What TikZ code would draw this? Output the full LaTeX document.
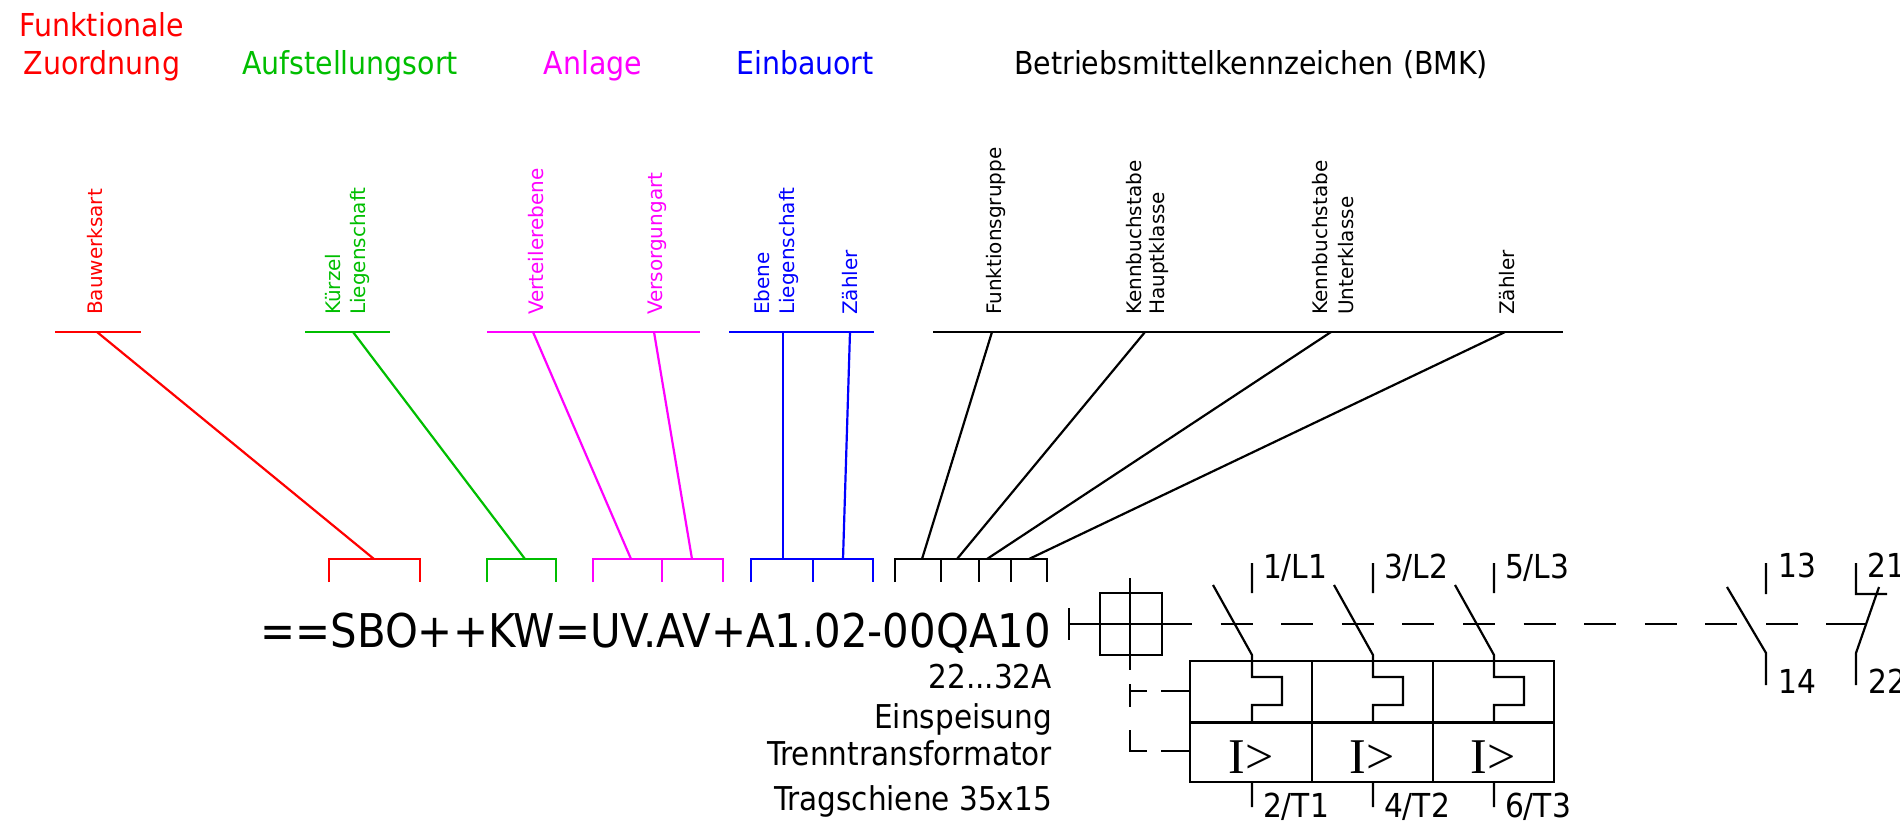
\documentclass[tikz,border=0pt]{standalone}
\usepackage{fontspec}
\setmainfont{DejaVu Sans Condensed}
\newfontfamily\lblfont{DejaVu Sans}
\newfontfamily\symfont{Liberation Serif}
\definecolor{fzred}{RGB}{255,0,0}
\definecolor{aorgreen}{RGB}{0,190,0}
\definecolor{anlmag}{RGB}{255,0,255}
\definecolor{einblue}{RGB}{0,0,255}

\begin{document}
\begin{tikzpicture}[x=1pt, y=-1pt, line width=2.2pt,
  head/.style={anchor=base, inner sep=0pt, font=\fontsize{31.6}{38}\selectfont},
  vlbl/.style={rotate=90, anchor=base west, inner sep=0pt, font=\lblfont\fontsize{20}{24}\selectfont},
  sub/.style={anchor=base east, inner sep=0pt, font=\fontsize{32.8}{38}\selectfont},
  term/.style={anchor=base west, inner sep=0pt, font=\fontsize{33}{38}\selectfont},
  relay/.style={anchor=base, inner sep=0pt, font=\symfont\fontsize{50}{50}\selectfont}]
\useasboundingbox (0,0) rectangle (1900,824);
% Ueberschriften
\node[head, text=fzred] (fz1) at (102,37) {Funktionale};
\node[head, text=fzred] (fz2) at (102,75) {Zuordnung};
\node[head, text=aorgreen] (aor) at (350,75) {Aufstellungsort};
\node[head, text=anlmag] (anl) at (593,75) {Anlage};
\node[head, text=einblue] (einb) at (805,75) {Einbauort};
\node[head] (bmk) at (1251,75) {Betriebsmittelkennzeichen (BMK)};
% senkrechte Beschriftungen
\node[vlbl, text=fzred] (bauart) at (102,316) {Bauwerksart};
\node[vlbl, text=aorgreen] (kuerzel) at (340,316) {Kürzel};
\node[vlbl, text=aorgreen] (liegA) at (365,316) {Liegenschaft};
\node[vlbl, text=anlmag] (vertebene) at (543,316) {Verteilerebene};
\node[vlbl, text=anlmag] (versart) at (662,316) {Versorgungart};
\node[vlbl, text=einblue] (ebene) at (769,316) {Ebene};
\node[vlbl, text=einblue] (liegB) at (794,316) {Liegenschaft};
\node[vlbl, text=einblue] (zaehlA) at (857,316) {Zähler};
\node[vlbl] (fgruppe) at (1001,316) {Funktionsgruppe};
\node[vlbl] (kbA) at (1141,316) {Kennbuchstabe};
\node[vlbl] (hklasse) at (1164,316) {Hauptklasse};
\node[vlbl] (kbB) at (1327,316) {Kennbuchstabe};
\node[vlbl] (uklasse) at (1353,316) {Unterklasse};
\node[vlbl] (zaehlB) at (1514,316) {Zähler};
% Balken oben
\draw[fzred] (55,332) -- (141,332);
\draw[aorgreen] (305,332) -- (390,332);
\draw[anlmag] (487,332) -- (700,332);
\draw[einblue] (729,332) -- (874,332);
\draw (933,332) -- (1563,332);
% Klammern ueber dem Kennzeichen
\draw[fzred] (329,582) -- (329,559) -- (420,559) -- (420,582);
\draw[aorgreen] (487,582) -- (487,559) -- (556,559) -- (556,582);
\draw[anlmag] (593,582) -- (593,559) -- (723,559) -- (723,582) (662,559) -- (662,582);
\draw[einblue] (751,582) -- (751,559) -- (873,559) -- (873,582) (813,559) -- (813,582);
\draw (895,582) -- (895,559) -- (1047,559) -- (1047,582) (941,559) -- (941,582) (979,559) -- (979,582) (1011,559) -- (1011,582);
% Verbindungen Balken - Klammer
\coordinate (bauT) at (97,332);   \coordinate (bauB) at (374,559);
\coordinate (liegT) at (353,332); \coordinate (liegB2) at (525,559);
\coordinate (vertT) at (533,332); \coordinate (vertB) at (631,559);
\coordinate (versT) at (654,332); \coordinate (versB) at (692,559);
\coordinate (ebT) at (783,332);   \coordinate (ebB) at (783,559);
\coordinate (zaT) at (850,332);   \coordinate (zaB) at (843,559);
\coordinate (fgT) at (992,332);   \coordinate (fgB) at (922,559);
\coordinate (hkT) at (1145,332);  \coordinate (hkB) at (957,559);
\coordinate (ukT) at (1331,332);  \coordinate (ukB) at (987,559);
\coordinate (zbT) at (1505,332);  \coordinate (zbB) at (1029,559);
\draw[fzred] (bauT) -- (bauB);
\draw[aorgreen] (liegT) -- (liegB2);
\draw[anlmag] (vertT) -- (vertB);
\draw[anlmag] (versT) -- (versB);
\draw[einblue] (ebT) -- (ebB);
\draw[einblue] (zaT) -- (zaB);
\draw (fgT) -- (fgB);
\draw (hkT) -- (hkB);
\draw (ukT) -- (ukB);
\draw (zbT) -- (zbB);
% Kennzeichen und Texte
\node[anchor=base east, inner sep=0pt, font=\fontsize{46.5}{50}\selectfont] (code) at (1052,647) {==SBO++KW=UV.AV+A1.02-00QA10};
\node[sub] (strom) at (1053,688) {22...32A};
\node[sub] (einsp) at (1053,728) {Einspeisung};
\node[sub] (trafo) at (1053,765) {Trenntransformator};
\node[sub] (schiene) at (1053,810) {Tragschiene 35x15};
% Handantrieb und Wirkverbindung
\draw (1069,608) -- (1069,640) (1069,624) -- (1192,624);
\draw (1100,593) rectangle (1162,655) (1130,578) -- (1130,670);
\draw[dash pattern=on 32pt off 28.6pt, dash phase=32pt] (1192,624) -- (1826,624);
\draw (1130,684) -- (1130,707) (1130,691) -- (1147,691) (1161,691) -- (1190,691);
\draw (1130,730) -- (1130,751) -- (1147,751) (1161,751) -- (1190,751);
% Ausloeser
\draw (1190,661) rectangle (1554,782) (1312,661) -- (1312,782) (1433,661) -- (1433,782);
\draw[line width=3pt] (1190,722) -- (1554,722);
% Hauptkontakte
\draw (1252,563) -- (1252,593) (1213,585) -- (1252,655) -- (1252,677) -- (1282,677) -- (1282,705) -- (1252,705) -- (1252,722) (1252,782) -- (1252,807);
\draw (1373,563) -- (1373,593) (1334,585) -- (1373,655) -- (1373,677) -- (1403,677) -- (1403,705) -- (1373,705) -- (1373,722) (1373,782) -- (1373,807);
\draw (1494,563) -- (1494,593) (1455,585) -- (1494,655) -- (1494,677) -- (1524,677) -- (1524,705) -- (1494,705) -- (1494,722) (1494,782) -- (1494,807);
\node[relay] (iA) at (1251,773) {I>};
\node[relay] (iB) at (1372,773) {I>};
\node[relay] (iC) at (1493,773) {I>};
\node[term] (l1) at (1262,578) {1/L1};
\node[term] (l2) at (1383,578) {3/L2};
\node[term] (l3) at (1504,578) {5/L3};
\node[term] (t1) at (1262,817) {2/T1};
\node[term] (t2) at (1383,817) {4/T2};
\node[term] (t3) at (1504,817) {6/T3};
% Hilfskontakte
\draw (1766,563) -- (1766,594) (1727,587) -- (1766,653) -- (1766,685);
\draw (1856,563) -- (1856,594) -- (1887,594) (1879,587) -- (1856,653) -- (1856,685);
\coordinate (ncdash) at (1826,624);
\coordinate (nclever) at (1866,624);
\draw (ncdash) -- (nclever);
\node[term] (no13) at (1777,577) {13};
\node[term] (no14) at (1777,693) {14};
\node[term] (nc21) at (1866,577) {21};
\node[term] (nc22) at (1867,693) {22};
\end{tikzpicture}
\end{document}
